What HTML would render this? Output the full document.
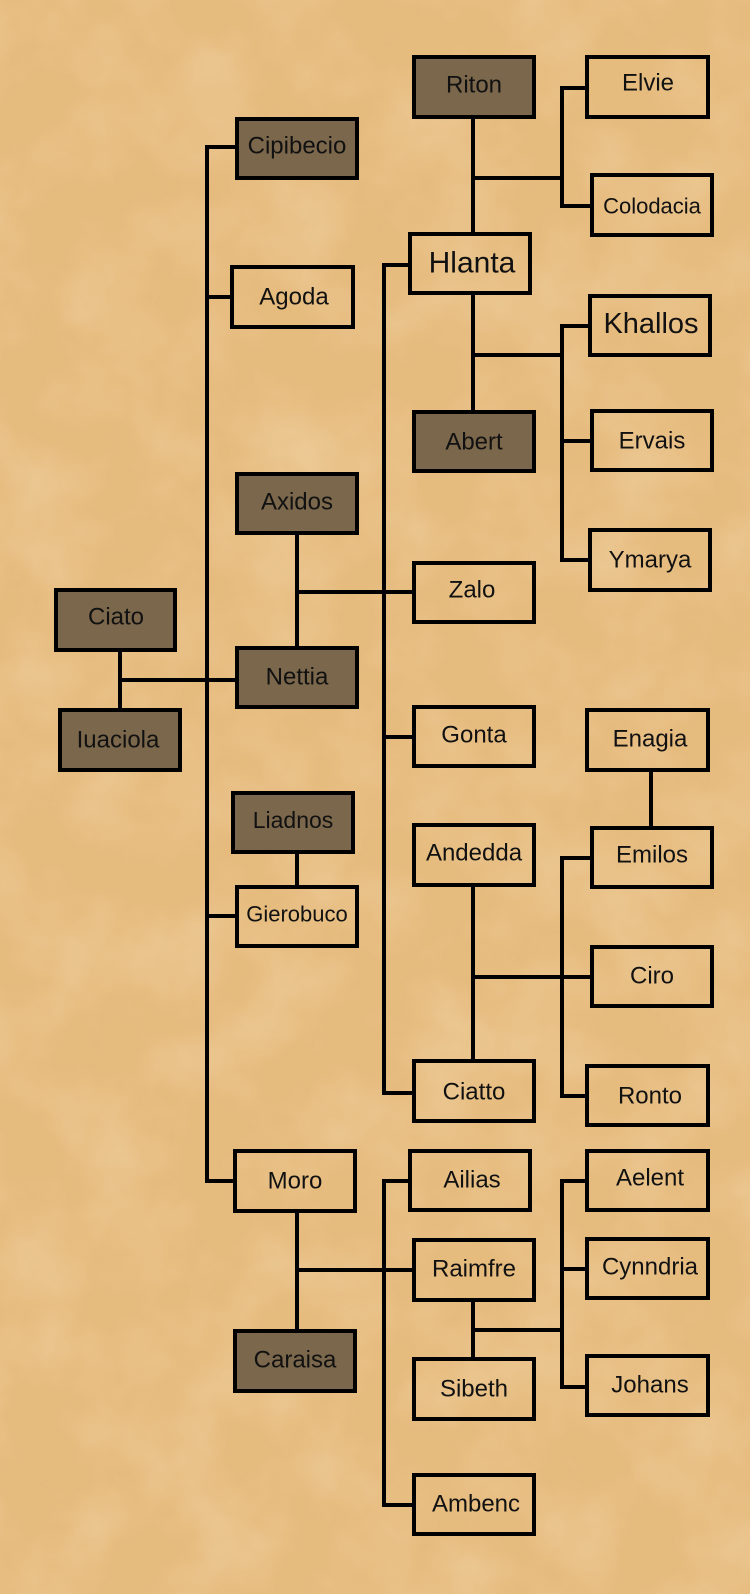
<!DOCTYPE html>
<html><head><meta charset="utf-8"><style>
html,body{margin:0;padding:0;}
body{width:750px;height:1594px;background:#e6bd82;overflow:hidden;}
svg{display:block;}
text{font-family:"Liberation Sans",Arial,sans-serif;fill:#111;text-anchor:middle;dominant-baseline:central;}
</style></head><body>
<svg width="750" height="1594" viewBox="0 0 750 1594" xmlns="http://www.w3.org/2000/svg">
<defs>
<filter id="paper" x="0" y="0" width="100%" height="100%">
<feTurbulence type="fractalNoise" baseFrequency="0.012" numOctaves="4" seed="3"/>
<feColorMatrix type="matrix" values="0 0 0 0 0.93  0 0 0 0 0.77  0 0 0 0 0.52  0 0 0 -1.2 0.75"/>
</filter>
</defs>
<rect width="750" height="1594" fill="#e6bb7e"/>
<rect width="750" height="1594" filter="url(#paper)" opacity="0.5"/>
<g stroke="#000" stroke-width="4" fill="none" stroke-linecap="square">
<path d="M120 650V710M120 680H237"/>
<path d="M207 147V1181M207 147H237M207 297H232M207 916H237M207 1181H235"/>
<path d="M297 533V648M297 592H414"/>
<path d="M384 265V1093M384 265H410M384 737H414M384 1093H414"/>
<path d="M473 117V234M473 178H562M562 88V206M562 88H587M562 206H592"/>
<path d="M473 293V412M473 355H562M562 326V560M562 326H590M562 441H592M562 560H590"/>
<path d="M473 885V1061M473 977H592M562 858V1096M562 858H592M562 1096H587"/>
<path d="M651 770V828"/>
<path d="M297 853V887"/>
<path d="M297 1211V1331M297 1270H414M384 1181V1505M384 1181H410M384 1505H414"/>
<path d="M473 1300V1359M473 1330H562M562 1181V1387M562 1181H587M562 1269H587M562 1387H587"/>
</g>
<g stroke="#000" stroke-width="4">
<rect x="56" y="590" width="119" height="60" fill="#7b674b"/>
<rect x="60" y="710" width="120" height="60" fill="#7b674b"/>
<rect x="237" y="119" width="120" height="59" fill="#7b674b"/>
<rect x="232" y="267" width="121" height="60" fill="none"/>
<rect x="237" y="474" width="120" height="59" fill="#7b674b"/>
<rect x="237" y="648" width="120" height="59" fill="#7b674b"/>
<rect x="233" y="793" width="120" height="59" fill="#7b674b"/>
<rect x="237" y="887" width="120" height="59" fill="none"/>
<rect x="235" y="1151" width="120" height="60" fill="none"/>
<rect x="235" y="1331" width="120" height="60" fill="#7b674b"/>
<rect x="414" y="57" width="120" height="60" fill="#7b674b"/>
<rect x="410" y="234" width="120" height="59" fill="none"/>
<rect x="414" y="412" width="120" height="59" fill="#7b674b"/>
<rect x="414" y="563" width="120" height="59" fill="none"/>
<rect x="414" y="707" width="120" height="59" fill="none"/>
<rect x="414" y="825" width="120" height="60" fill="none"/>
<rect x="414" y="1061" width="120" height="60" fill="none"/>
<rect x="410" y="1151" width="120" height="59" fill="none"/>
<rect x="414" y="1240" width="120" height="60" fill="none"/>
<rect x="414" y="1359" width="120" height="60" fill="none"/>
<rect x="414" y="1475" width="120" height="59" fill="none"/>
<rect x="587" y="57" width="121" height="60" fill="none"/>
<rect x="592" y="175" width="120" height="60" fill="none"/>
<rect x="590" y="296" width="120" height="59" fill="none"/>
<rect x="592" y="411" width="120" height="59" fill="none"/>
<rect x="590" y="530" width="120" height="60" fill="none"/>
<rect x="587" y="710" width="121" height="60" fill="none"/>
<rect x="592" y="828" width="120" height="59" fill="none"/>
<rect x="592" y="947" width="120" height="59" fill="none"/>
<rect x="587" y="1066" width="121" height="59" fill="none"/>
<rect x="587" y="1151" width="121" height="59" fill="none"/>
<rect x="587" y="1239" width="121" height="59" fill="none"/>
<rect x="587" y="1356" width="121" height="59" fill="none"/>
</g>
<g font-size="24">
<text x="116" y="617">Ciato</text>
<text x="118" y="740">Iuaciola</text>
<text x="297" y="146">Cipibecio</text>
<text x="294" y="297">Agoda</text>
<text x="297" y="502">Axidos</text>
<text x="297" y="677">Nettia</text>
<text x="293" y="820" font-size="23">Liadnos</text>
<text x="297" y="914" font-size="22">Gierobuco</text>
<text x="295" y="1181">Moro</text>
<text x="295" y="1360">Caraisa</text>
<text x="474" y="85">Riton</text>
<text x="472" y="263" font-size="30">Hlanta</text>
<text x="474" y="442">Abert</text>
<text x="472" y="590">Zalo</text>
<text x="474" y="735">Gonta</text>
<text x="474" y="853">Andedda</text>
<text x="474" y="1092">Ciatto</text>
<text x="472" y="1180">Ailias</text>
<text x="474" y="1269">Raimfre</text>
<text x="474" y="1389">Sibeth</text>
<text x="476" y="1504">Ambenc</text>
<text x="648" y="83">Elvie</text>
<text x="652" y="206" font-size="22">Colodacia</text>
<text x="651" y="324" font-size="29">Khallos</text>
<text x="652" y="441">Ervais</text>
<text x="650" y="560">Ymarya</text>
<text x="650" y="739">Enagia</text>
<text x="652" y="855">Emilos</text>
<text x="652" y="976">Ciro</text>
<text x="650" y="1096">Ronto</text>
<text x="650" y="1178">Aelent</text>
<text x="650" y="1267">Cynndria</text>
<text x="650" y="1385">Johans</text>
</g>
</svg>
</body></html>
